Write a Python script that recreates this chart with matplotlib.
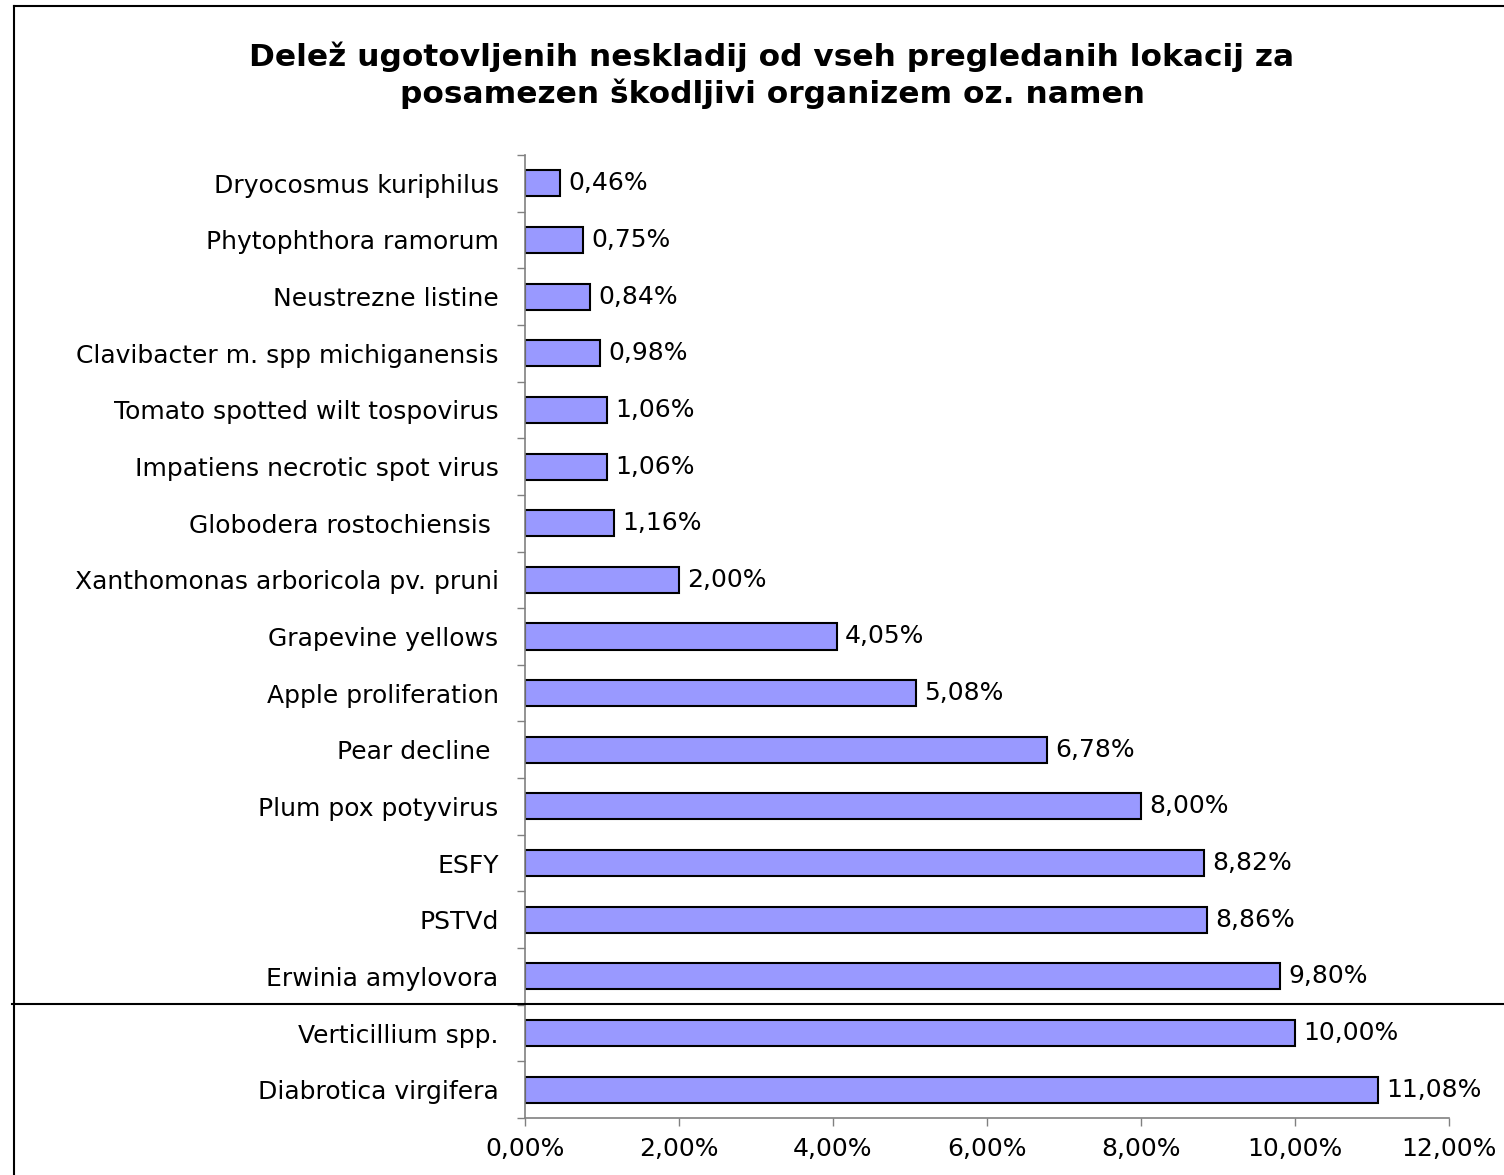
import matplotlib
matplotlib.use("Agg")
import matplotlib.pyplot as plt
from matplotlib.lines import Line2D

plt.rcParams['font.family'] = ['DejaVu Sans']

categories = [
    "Dryocosmus kuriphilus",
    "Phytophthora ramorum",
    "Neustrezne listine",
    "Clavibacter m. spp michiganensis",
    "Tomato spotted wilt tospovirus",
    "Impatiens necrotic spot virus",
    "Globodera rostochiensis ",
    "Xanthomonas arboricola pv. pruni",
    "Grapevine yellows",
    "Apple proliferation",
    "Pear decline ",
    "Plum pox potyvirus",
    "ESFY",
    "PSTVd",
    "Erwinia amylovora",
    "Verticillium spp.",
    "Diabrotica virgifera",
]
values = [0.46, 0.75, 0.84, 0.98, 1.06, 1.06, 1.16, 2.00, 4.05, 5.08,
          6.78, 8.00, 8.82, 8.86, 9.80, 10.00, 11.08]
xticks = [0, 2, 4, 6, 8, 10, 12]
xticklabels = ["0,00%", "2,00%", "4,00%", "6,00%", "8,00%", "10,00%", "12,00%"]
title = ("Delež ugotovljenih neskladij od vseh pregledanih lokacij za\n"
         "posamezen škodljivi organizem oz. namen")

W, H = 1504, 1175
fig = plt.figure(figsize=(W / 100, H / 100), dpi=100)
ax = fig.add_axes([525 / W, 1 - 1118 / H, (1449 - 525) / W, (1118 - 155) / H])

FS = 18
n = len(categories)
ypos = list(range(n))
ax.barh(ypos, values, height=0.46, color="#9999FF", edgecolor="black", linewidth=1.5)
ax.set_ylim(n - 0.5, -0.5)
ax.set_xlim(0, 12)

ax.set_yticks(ypos)
ax.set_yticklabels(categories, fontsize=FS)
ax.set_yticks([i - 0.5 for i in range(n + 1)], minor=True)
ax.tick_params(axis="y", which="major", length=0, pad=19)
ax.tick_params(axis="y", which="minor", length=6, width=1, color="#808080", direction="out")
ax.set_xticks(xticks)
ax.set_xticklabels(xticklabels, fontsize=FS)
ax.tick_params(axis="x", length=5.5, width=1, color="#808080", direction="out", pad=8)

for s in ["top", "right"]:
    ax.spines[s].set_visible(False)
for s in ["left", "bottom"]:
    ax.spines[s].set_color("#808080")
    ax.spines[s].set_linewidth(1.2)

for y, v in zip(ypos, values):
    ax.annotate(f"{v:.2f}%".replace(".", ","), xy=(v, y), xytext=(6, 0),
                textcoords="offset points", va="center", ha="left", fontsize=FS)

fig.text(772 / W, 1 - 75 / H, title, ha="center", va="center", fontsize=22.5,
         fontweight="bold", linespacing=1.25)

# frame lines
fig.add_artist(Line2D([14 / W, 14 / W], [0, 1 - 6 / H], color="black", lw=1.5))
fig.add_artist(Line2D([14 / W, 1], [1 - 6 / H, 1 - 6 / H], color="black", lw=1.5))
fig.add_artist(Line2D([12 / W, 1], [1 - 1004 / H, 1 - 1004 / H], color="black", lw=1.5))

fig.savefig("out.png", dpi=100)
